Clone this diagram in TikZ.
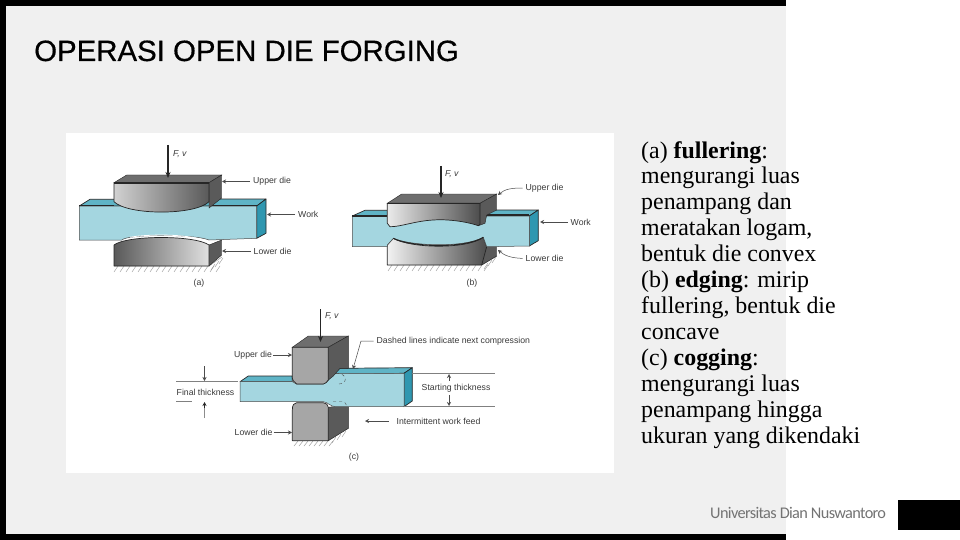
\documentclass[tikz,border=0pt]{standalone}
\usepackage{fontspec}
\setmainfont{Liberation Serif}
\setsansfont{Liberation Sans}
\newfontfamily\footfont[LetterSpace=-4]{Carlito}
\newfontfamily\titlefont[FakeBold=0.5]{Liberation Sans}
\usetikzlibrary{arrows.meta}
\definecolor{slidebg}{HTML}{F0F0F0}
\definecolor{workface}{HTML}{A4D6E0}
\definecolor{worktop}{HTML}{5FB4C6}
\definecolor{workside}{HTML}{2F97B0}
\definecolor{dieside}{HTML}{5A5A5A}
\definecolor{dietop}{HTML}{6E6E6E}
\definecolor{labelgray}{HTML}{3A3A3A}
\tikzset{
  x=1pt,y=-1pt,
  edgeline/.style={draw=black!85,line width=0.7pt,line join=round},
  ptr/.style={draw=black!70,line width=0.5pt,shorten <=3pt,-{Stealth[length=4pt,width=4pt]}},
  force/.style={draw=black!85,line width=1.1pt,-{Stealth[length=6pt,width=5pt]}},
  lab/.style={font=\sffamily\fontsize{8.7}{10}\selectfont,text=labelgray,inner sep=0pt},
  ital/.style={font=\sffamily\itshape\fontsize{8.7}{10}\selectfont},
  hatchline/.style={draw=black!45,line width=0.4pt},
  thin dim/.style={draw=black!50,line width=0.5pt},
}
\begin{document}
\begin{tikzpicture}
\useasboundingbox (0,0) rectangle (960,540);
\fill[white] (0,0) rectangle (960,540);
\fill[slidebg] (0,0) rectangle (786,540);
\fill[black] (0,0) rectangle (786,6);
\fill[black] (0,0) rectangle (6,534);
\fill[black] (0,534) rectangle (786,540);
\fill[black] (898,500) rectangle (960,530);
\fill[white] (66,133) rectangle (614,473);
\node[anchor=base west,inner sep=0pt,font=\titlefont\fontsize{29.4}{31}\selectfont] (title) at (34,61) {OPERASI OPEN DIE FORGING};
\node[anchor=north west,inner sep=0pt,align=left,font=\fontsize{23.9}{25.95}\selectfont] (body) at (641,141) {(a) \textbf{fullering}:\\mengurangi luas\\penampang dan\\meratakan logam,\\bentuk die convex\\(b) \textbf{edging}: mirip\\fullering, bentuk die\\concave\\(c) \textbf{cogging}:\\mengurangi luas\\penampang hingga\\ukuran yang dikendaki};
\node[anchor=base west,inner sep=0pt,text=black!55,font=\footfont\fontsize{16.3}{18}\selectfont] (foot) at (710,518) {Universitas Dian Nuswantoro};

% ---------- panel a ----------
\foreach \i in {0,...,17} \draw[hatchline] (114+\i*6,272)--(118+\i*6,266);
\draw[hatchline] (114,266)--(209,266)--(222,257);
\foreach \i in {0,1,2} \draw[hatchline] (211+\i*4,270-\i*3)--(215+\i*4,264-\i*3);
% lower die
\path[draw=black!85,fill=dieside] (209,266)--(221.7,255)--(221.7,240)--(209,245)--cycle;
\path[edgeline,left color=black!65,right color=black!12] (114,266)--(114,245) .. controls (127,235) and (195,235) .. (209,245)--(209,266)--cycle;
% work
\path[edgeline,fill=worktop] (79.3,206)--(90,199.3)--(266,199)--(256.7,206)--cycle;
\path[edgeline,fill=workside] (256.7,206)--(266,199)--(266,233.3)--(256.7,238.3)--cycle;
\path[fill=workface,draw=black!70,line width=0.5pt] (79.3,206)--(256.7,206)--(256.7,238.3)--(209,240)
  .. controls (195,234) and (127,234) .. (122,240)--(79.3,240)--cycle;
\draw[line width=1pt,black!85] (79.3,205.8)--(114,205.8) (209,205.8)--(256.7,205.8);
\draw[white,line width=0.8pt] (130,237.2) .. controls (150,234) and (185,234) .. (204,240);
% upper die
\path[draw=black!85,fill=dietop] (114,182.7)--(126.7,175)--(221.7,175)--(209,182.7)--cycle;
\path[draw=black!85,fill=dieside] (209,182.7)--(221.7,175)--(221.7,198)--(209,208)--cycle;
\path[edgeline,left color=black!18,right color=black!65] (114,182.7)--(209,182.7)--(209,201.7)
  .. controls (195,215.5) and (128,215.5) .. (114,201.7)--cycle;
\draw[line width=1.1pt,black!85] (114,183)--(209,183);
\coordinate (fa) at (168,145);
\coordinate (faend) at (168,178);
\draw[force] (fa)--(faend);
\node[lab,ital,anchor=west] (fal) at (173,154) {F, v};
\node[lab,anchor=west] (aud) at (253,181.5) {Upper die};
\coordinate (auda) at (222,181.5);
\draw[ptr] (aud)--(auda);
\node[lab,anchor=west] (awk) at (298,214.5) {Work};
\coordinate (awka) at (267,214.5);
\draw[ptr] (awk)--(awka);
\node[lab,anchor=west] (ald) at (253.5,251) {Lower die};
\coordinate (alda) at (222,251);
\draw[ptr] (ald)--(alda);
\node[lab] (acap) at (199,283.5) {(a)};

% ---------- panel b ----------
\foreach \i in {0,...,16} \draw[hatchline] (388+\i*6,271)--(392+\i*6,265);
\draw[hatchline] (387.3,265)--(482,265)--(497,256);
\foreach \i in {0,1,2} \draw[hatchline] (484+\i*4,269-\i*3)--(488+\i*4,263-\i*3);
% lower die
\path[draw=black!85,fill=dieside] (481.7,265)--(496.7,256)--(496.7,246.7)--(486.7,246.7)--(483.3,237.3)--(481.7,240)--cycle;
\path[edgeline,left color=black!5,right color=black!70] (387.3,265)--(387.3,245)--(393.3,238.3)
  .. controls (410,248) and (465,250) .. (483.3,237.3)--(486.7,246.7)--(481.7,265)--cycle;
% work
\path[edgeline,fill=worktop] (352.3,216)--(365,210.3)--(538.3,210)--(529.3,216)--cycle;
\path[edgeline,fill=workside] (529.3,216)--(538.3,210)--(538.3,240.7)--(529.3,246)--cycle;
\path[fill=workface,draw=black!70,line width=0.5pt] (352.3,216)--(529.3,216)--(529.3,246)--(486.7,246.7)--(483.3,237.3)
  .. controls (465,248) and (410,246) .. (393.3,238.3)--(387.3,245)--(387.3,246.7)--(352.3,246.7)--cycle;
\draw[line width=1.3pt,black!85] (352.3,216)--(387.3,216) (483,215)--(529.3,215);
\draw[line width=1.1pt,black!85] (393.3,238.3) .. controls (410,247) and (465,249) .. (483.3,237.3);
% upper die
\path[draw=black!85,fill=dietop] (387.3,203.3)--(401.7,194)--(496.7,194)--(480,203.3)--cycle;
\path[draw=black!85,fill=dieside] (480,203.3)--(496.7,194)--(496.7,210)--(486.7,215)--(485,223.3)--(478.3,225.7)--cycle;
\path[edgeline,left color=black!8,right color=black!70] (387.3,203.3)--(480,203.3)--(480,224)--(478.3,225.7)
  .. controls (465,221) and (445,219) .. (433.3,220) .. controls (415,221) and (400,227) .. (390,226.7)--(387.3,223.3)--cycle;
\draw[line width=1.1pt,black!85] (387.3,203.5)--(480,203.5);
\coordinate (fb) at (441,166);
\coordinate (fbend) at (441,198);
\draw[force] (fb)--(fbend);
\node[lab,ital,anchor=west] (fbl) at (445,174) {F, v};
\node[lab,anchor=west] (bud) at (525.5,188) {Upper die};
\coordinate (buda) at (498,195);
\draw[ptr] (bud.west) .. controls (512,188) and (505,189) .. (buda);
\node[lab,anchor=west] (bwk) at (570.5,222) {Work};
\coordinate (bwka) at (540,222);
\draw[ptr] (bwk)--(bwka);
\node[lab,anchor=west] (bld) at (525.5,258.5) {Lower die};
\coordinate (blda) at (498,250);
\draw[ptr] (bld.west) .. controls (512,258) and (505,256) .. (blda);
\node[lab] (bcap) at (472,283) {(b)};

% ---------- panel c ----------
\foreach \i in {0,...,7} \draw[hatchline] (294+\i*5,446)--(298+\i*5,441);
\draw[hatchline] (292.3,440.7)--(328.3,440.7)--(349,428);
\foreach \i in {0,...,2} \draw[hatchline] (332+\i*5,443-\i*3)--(336+\i*5,437-\i*3);
% lower die
\path[draw=black!85,fill=dieside] (328.3,440.7)--(348.3,428.3)--(348.3,406.7)--(333,406.7)--(328.3,407.3)--cycle;
\path[edgeline,fill=black!35] (292.3,440.7)--(292.3,410) .. controls (292.3,405) and (294,402.7) .. (296.7,402.7)--(323.3,402.7) .. controls (326,402.7) and (328.3,405) .. (328.3,407.3)--(328.3,440.7)--cycle;
% work
\path[edgeline,fill=worktop] (240,381.7)--(248.3,376)--(292.3,376)--(292.3,381.7)--cycle;
\path[edgeline,fill=worktop] (333,374)--(340,368.3)--(412.3,367.7)--(404,373.3)--cycle;
\path[edgeline,fill=workside] (404,373.3)--(412.3,367.7)--(412.3,401)--(404,406.7)--cycle;
\path[fill=workface,draw=black!70,line width=0.5pt] (240,381.7)--(292.3,381.7)--(296.7,384)--(323.3,384)
  .. controls (328,384) and (331,373.3) .. (336,373.3)--(404,373.3)--(404,406.7)--(336,406.7)
  .. controls (330,406.7) and (328,402) .. (323.3,401.7)--(240,401.7)--cycle;
\draw[black!70,line width=0.4pt,dashed] (336,373.3) .. controls (349,373.5) and (347,384) .. (339,384);
\draw[black!70,line width=0.4pt,dashed] (333,401.5)--(342,401.5) .. controls (346,401.5) and (346,405) .. (347,406.7);
% upper die
\path[draw=black!85,fill=dietop] (292.3,347.3)--(308.3,336)--(348.3,336)--(328.3,347.3)--cycle;
\path[draw=black!85,fill=dieside] (328.3,347.3)--(348.3,336)--(348.3,368.3)--(340,368.3)--(333.3,376)--(328.3,380)--cycle;
\path[edgeline,fill=black!35] (292.3,347.3)--(328.3,347.3)--(328.3,380) .. controls (327,382) and (325,384) .. (323.3,384)--(296.7,384) .. controls (294,382) and (292.3,380) .. (292.3,378.3)--cycle;
\coordinate (fc) at (320.5,309);
\coordinate (fcend) at (320.5,342);
\draw[force] (fc)--(fcend);
\node[lab,ital,anchor=west] (fcl) at (325,316) {F, v};
\node[lab,anchor=west] (cud) at (234,355) {Upper die};
\coordinate (cuda) at (292,355);
\draw[ptr,shorten <=1pt] (cud)--(cuda);
\node[lab,anchor=west] (cld) at (234.5,432.5) {Lower die};
\coordinate (clda) at (292,432.5);
\draw[ptr,shorten <=1pt] (cld)--(clda);
\node[lab,anchor=west] (cds) at (376.5,341) {Dashed lines indicate next compression};
\coordinate (cdsa) at (353,369);
\draw[ptr] (cds.west) -- (361,341) -- (cdsa);
\node[lab,anchor=west] (cst) at (421.5,388) {Starting thickness};
\coordinate (csu) at (449,374);
\coordinate (csl) at (449,406);
\draw[ptr] (cst.north -| csu) -- (csu);
\draw[ptr] (cst.south -| csl) -- (csl);
\coordinate (cr1) at (412,373);
\coordinate (cr2) at (495,373);
\coordinate (cr3) at (404,406.7);
\coordinate (cr4) at (495,406.7);
\draw[thin dim] (cr1)--(cr2) (cr3)--(cr4);
\node[lab,anchor=west] (cfn) at (176.5,392.5) {Final thickness};
\coordinate (cf1) at (176,381.5);
\coordinate (cf2) at (238,381.5);
\coordinate (cf3) at (176,401.7);
\coordinate (cf4) at (192,401.7);
\draw[thin dim] (cf1)--(cf2) (cf3)--(cf4);
\coordinate (ct1) at (204.5,366);
\coordinate (ct2) at (204.5,381);
\coordinate (ct3) at (204.5,418);
\coordinate (ct4) at (204.5,402);
\draw[ptr,shorten <=0pt] (ct1)--(ct2);
\draw[draw=black!45,line width=1.4pt] (ct3)--(204.5,407);
\draw[ptr,shorten <=0pt,draw=black!85,line width=0.8pt] (204.5,408)--(ct4);
\node[lab,anchor=west] (cfd) at (396.5,421) {Intermittent work feed};
\coordinate (cfda) at (365,421);
\draw[ptr,shorten <=8pt] (cfd)--(cfda);
\node[lab] (ccap) at (354,457) {(c)};
\end{tikzpicture}
\end{document}
